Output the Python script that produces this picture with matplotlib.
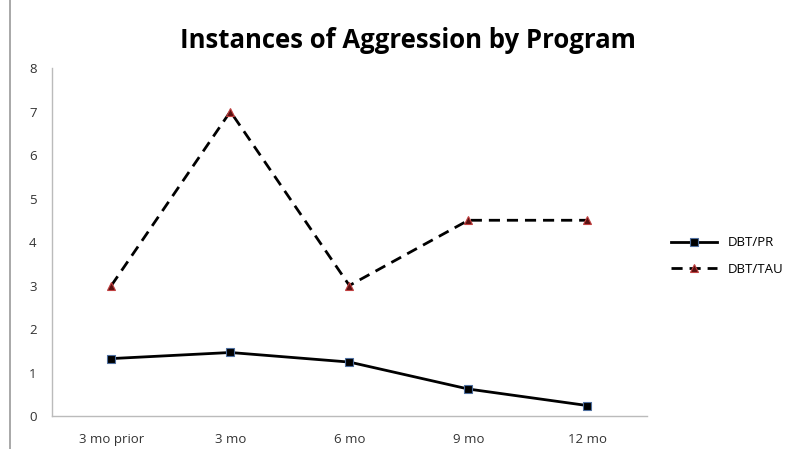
import numpy as np
import matplotlib
matplotlib.use('Agg')
import matplotlib.pyplot as plt

# data
categories = ['3 mo prior', '3 mo', '6 mo', '9 mo', '12 mo']
dbt_pr = [1.32, 1.46, 1.24, 0.62, 0.24]
dbt_tau = [3, 7, 3, 4.5, 4.5]

plt.rcParams['font.family'] = ['Open Sans', 'DejaVu Sans']

fig = plt.figure(figsize=(7.86, 4.49), dpi=100)
ax = fig.add_axes([0.066, 0.0735, 0.757, 0.775])

x = np.arange(len(categories))
ax.plot(x, dbt_pr, color='black', linewidth=2, marker='s', markersize=6,
        markerfacecolor='black', markeredgecolor='#4f6f9f', markeredgewidth=0.8,
        label='DBT/PR')
ax.plot(x, dbt_tau, color='black', linewidth=2, linestyle=(0, (4, 2.5)), marker='^',
        markersize=6, markerfacecolor='#5a1010', markeredgecolor='#c04040',
        markeredgewidth=0.8, label='DBT/TAU')

ax.set_xlim(-0.5, len(categories) - 0.5)
ax.set_ylim(0, 8)
ax.set_xticks(x)
ax.set_xticklabels(categories)
ax.set_yticks(range(0, 9))
ax.tick_params(length=0, labelsize=9.5, colors='#333333')
ax.tick_params(axis='x', pad=12)
ax.tick_params(axis='y', pad=11)
for s in ['top', 'right']:
    ax.spines[s].set_visible(False)
for s in ['left', 'bottom']:
    ax.spines[s].set_color('#bbbbbb')
    ax.spines[s].set_linewidth(1)

fig.suptitle('Instances of Aggression by Program', fontsize=18.5, fontweight='bold',
             x=0.519, y=0.94)

ax.legend(loc='center left', bbox_to_anchor=(1.02, 0.46), frameon=False,
          fontsize=9.5, handlelength=3.5, labelspacing=1.0)

# outer border line on the left
fig.add_artist(plt.Line2D([0.013, 0.013], [0, 1], color='#999999', linewidth=1.2,
                          transform=fig.transFigure))

plt.savefig('out.png', dpi=100)
